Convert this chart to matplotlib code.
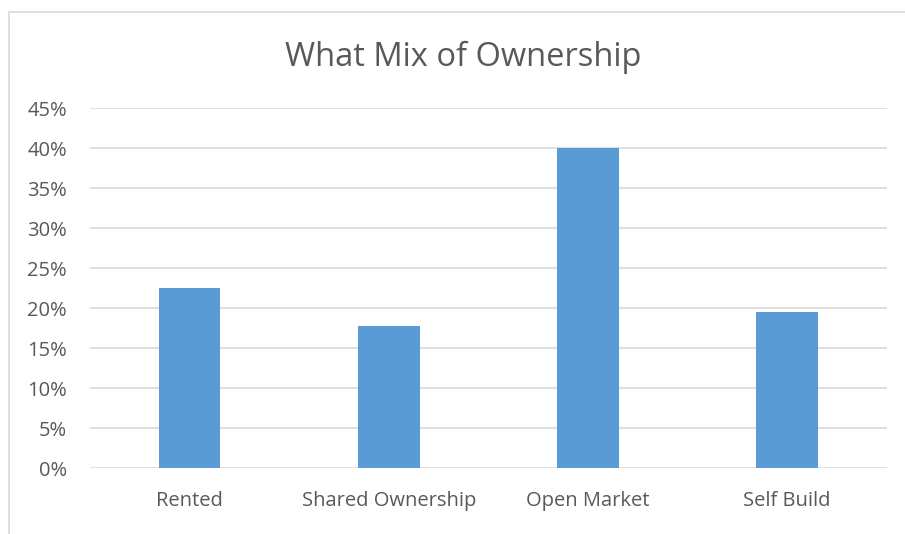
import matplotlib
matplotlib.use("Agg")
import matplotlib.pyplot as plt
from matplotlib.lines import Line2D
from matplotlib.ticker import FuncFormatter

categories = ["Rented", "Shared Ownership", "Open Market", "Self Build"]
shares = [22.5, 17.8, 40.1, 19.5]
y_ticks = [0, 5, 10, 15, 20, 25, 30, 35, 40, 45]

TEXT = "#595959"
GRID = "#d9d9d9"
BAR = "#5b9bd5"

plt.rcParams["font.family"] = ["Open Sans", "DejaVu Sans"]

W, H = 905, 534
fig = plt.figure(figsize=(W / 100, H / 100), dpi=100)
ax = fig.add_axes([90 / W, 1 - 468.3 / H, (886.7 - 90) / W, (468.3 - 108.3) / H])

x = range(len(categories))
ax.bar(x, shares, width=0.31, color=BAR, zorder=3)
ax.set_xlim(-0.5, len(categories) - 0.5)
ax.set_ylim(0, 45)
ax.set_yticks(y_ticks)
ax.yaxis.set_major_formatter(FuncFormatter(lambda v, p: f"{v:.0f}%"))
ax.set_xticks(list(x))
ax.set_xticklabels(categories)
ax.grid(axis="y", color=GRID, linewidth=1.2, zorder=0)
for s in ax.spines.values():
    s.set_visible(False)
ax.tick_params(length=0, labelsize=14.5, colors=TEXT)
ax.tick_params(axis="y", pad=16.5)
ax.tick_params(axis="x", pad=16)

fig.text(463 / W, 1 - 57 / H, "What Mix of Ownership", ha="center", va="center",
         fontsize=23.5, color=TEXT)

# chart area border (cropped at right and bottom)
fig.add_artist(Line2D([8.5 / W, 8.5 / W, 1.0], [0.0, 1 - 12 / H, 1 - 12 / H],
                      transform=fig.transFigure, color=GRID, linewidth=1.2))

fig.savefig("out.png", dpi=100)
